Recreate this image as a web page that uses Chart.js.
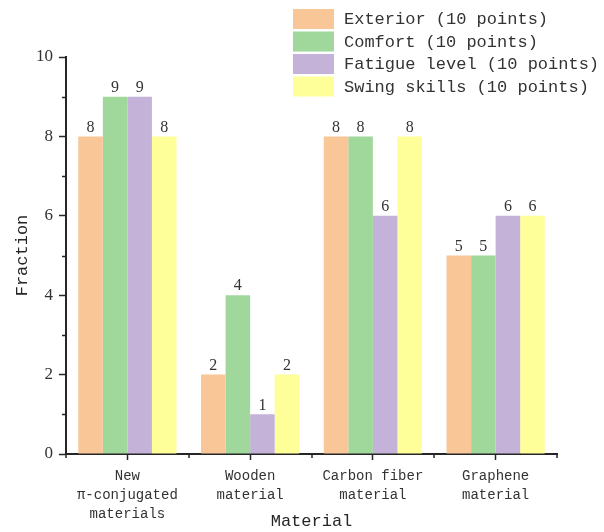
<!DOCTYPE html>
<html>
<head>
<meta charset="utf-8">
<script src="https://cdn.jsdelivr.net/npm/chart.js@4/dist/chart.umd.min.js"></script>
<style>
  html, body { margin: 0; padding: 0; background: #fff; }
  #wrap { width: 604px; height: 532px; }
</style>
</head>
<body>
<div id="wrap"><canvas id="chart"></canvas></div>
<script>
// Scores per material, 10 points each
const categories = [
  ['New', 'π-conjugated', 'materials'],
  ['Wooden', 'material'],
  ['Carbon fiber', 'material'],
  ['Graphene', 'material']
];
const seriesNames = [
  'Exterior (10 points)',
  'Comfort (10 points)',
  'Fatigue level (10 points)',
  'Swing skills (10 points)'
];
const exterior = [8, 2, 8, 5];
const comfort = [9, 4, 8, 5];
const fatigue = [9, 1, 6, 6];
const swing = [8, 2, 8, 6];
const yTicks = [0, 2, 4, 6, 8, 10];

const colors = ['#f9c698', '#a0d89c', '#c4b2d8', '#ffff99'];
const mono = '"Liberation Mono", "DejaVu Sans Mono", monospace';
const serif = '"Liberation Serif", "DejaVu Serif", serif';
const ink = '#262626';

// value labels above each bar
const valueLabels = {
  id: 'valueLabels',
  afterDatasetsDraw(chart) {
    const ctx = chart.ctx;
    ctx.save();
    ctx.font = '16px ' + serif;
    ctx.fillStyle = '#333';
    ctx.textAlign = 'center';
    ctx.textBaseline = 'bottom';
    chart.data.datasets.forEach((ds, i) => {
      chart.getDatasetMeta(i).data.forEach((bar, j) => {
        ctx.fillText(ds.data[j], bar.x, bar.y - 1);
      });
    });
    ctx.restore();
  }
};

// minor ticks on both axes
const minorTicks = {
  id: 'minorTicks',
  afterDraw(chart) {
    const ctx = chart.ctx;
    const x = chart.scales.x, y = chart.scales.y;
    ctx.save();
    ctx.strokeStyle = ink;
    ctx.lineWidth = 1.5;
    ctx.beginPath();
    for (let v = 1; v < 10; v += 2) {
      const py = Math.round(y.getPixelForValue(v)) + 0.5;
      ctx.moveTo(x.left - 4, py);
      ctx.lineTo(x.left, py);
    }
    for (let i = 0; i <= categories.length; i++) {
      const px = Math.round(x.getPixelForValue(i - 0.5));
      ctx.moveTo(px, y.bottom);
      ctx.lineTo(px, y.bottom + 4);
    }
    ctx.stroke();
    ctx.restore();
  }
};

// stacked legend in the top right corner
const boxLegend = {
  id: 'boxLegend',
  afterDraw(chart) {
    const ctx = chart.ctx;
    ctx.save();
    ctx.font = '17px ' + mono;
    ctx.textBaseline = 'middle';
    ctx.textAlign = 'left';
    chart.data.datasets.forEach((ds, i) => {
      const top = 9 + i * 22.5;
      ctx.fillStyle = ds.backgroundColor;
      ctx.fillRect(293, top, 41, 20);
      ctx.fillStyle = '#333';
      ctx.fillText(ds.label, 344, top + 10.5);
    });
    ctx.restore();
  }
};

const series = [exterior, comfort, fatigue, swing];

new Chart(document.getElementById('chart'), {
  type: 'bar',
  data: {
    labels: categories,
    datasets: series.map((data, i) => ({
      label: seriesNames[i],
      data: data,
      backgroundColor: colors[i],
      borderWidth: 0,
      categoryPercentage: 0.8,
      barPercentage: 1.0
    }))
  },
  options: {
    responsive: true,
    maintainAspectRatio: false,
    animation: false,
    layout: { padding: { top: 57, right: 47, left: 0, bottom: 0 } },
    plugins: {
      legend: { display: false },
      tooltip: { enabled: false }
    },
    scales: {
      x: {
        grid: {
          display: true,
          drawOnChartArea: false,
          offset: false,
          tickLength: 6,
          tickColor: ink,
          tickWidth: 1.5
        },
        border: { display: true, color: ink, width: 2 },
        ticks: {
          color: '#333',
          font: { family: mono, size: 14, lineHeight: '19px' },
          padding: 7,
          maxRotation: 0,
          autoSkip: false
        },
        title: {
          display: true,
          text: 'Material',
          color: ink,
          font: { family: mono, size: 17 },
          padding: { top: 3, bottom: 0 }
        },
        afterFit(scale) { scale.height = 78; }
      },
      y: {
        min: 0,
        max: 10,
        afterBuildTicks(scale) {
          scale.ticks = yTicks.map(v => ({ value: v }));
        },
        grid: {
          display: true,
          drawOnChartArea: false,
          tickLength: 7,
          tickColor: ink,
          tickWidth: 1.5
        },
        border: { display: true, color: ink, width: 2 },
        ticks: {
          color: '#333',
          font: { family: serif, size: 17 },
          padding: 6
        },
        title: {
          display: true,
          text: 'Fraction',
          color: ink,
          font: { family: mono, size: 17 },
          padding: { top: 12, bottom: 0 }
        },
        afterFit(scale) { scale.width = 66; }
      }
    }
  },
  plugins: [valueLabels, minorTicks, boxLegend]
});
</script>
</body>
</html>
